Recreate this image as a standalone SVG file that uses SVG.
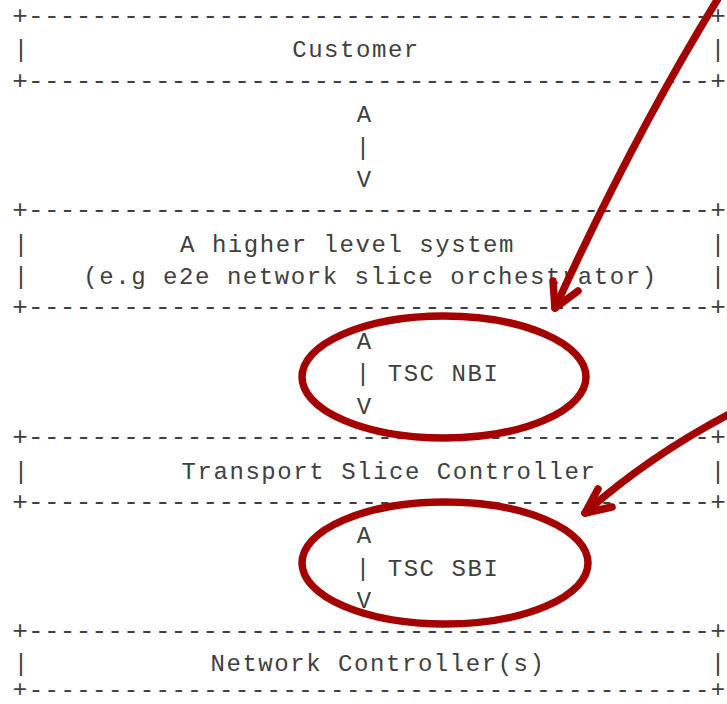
<svg xmlns="http://www.w3.org/2000/svg" width="727" height="704" viewBox="0 0 727 704">
<style>
  text { font-family: "Liberation Mono", "DejaVu Sans Mono", monospace; font-size: 24px; letter-spacing: 1.55px; fill: #404040; }
  .b { font-size: 26px; letter-spacing: 0.26px; }
  .bl { letter-spacing: 1.46px; }
  .c { text-anchor: middle; }
  .red { fill: none; stroke: #a40000; stroke-width: 7.5; stroke-linecap: round; stroke-linejoin: round; }
</style>
<rect width="727" height="704" fill="#ffffff"/>
<g id="customer">
  <text class="b" x="12.2" y="23.8">+-------------------------------------------+</text>
  <text x="13.8" y="57.4">|</text>
  <text class="c" x="356" y="57.4">Customer</text>
  <text x="710.8" y="57.4">|</text>
  <text class="b" x="12.2" y="88.6">+-------------------------------------------+</text>
</g>
<g id="higher-level-system">
  <text class="b" x="12.2" y="218.2">+-------------------------------------------+</text>
  <text x="13.8" y="251.8">|</text>
  <text class="c" x="347.5" y="251.8">A higher level system</text>
  <text x="710.8" y="251.8">|</text>
  <text x="13.8" y="284.2">|</text>
  <text class="c" x="370.5" y="284.2">(e.g e2e network slice orchestrator)</text>
  <text x="710.8" y="284.2">|</text>
  <text class="b" x="12.2" y="315.4">+-------------------------------------------+</text>
</g>
<g id="transport-slice-controller">
  <text class="b" x="12.2" y="445">+-------------------------------------------+</text>
  <text x="13.8" y="478.6">|</text>
  <text class="c" x="389" y="478.6">Transport Slice Controller</text>
  <text x="710.8" y="478.6">|</text>
  <text class="b" x="12.2" y="509.8">+-------------------------------------------+</text>
</g>
<g id="network-controllers">
  <text class="b" x="12.2" y="639.4">+-------------------------------------------+</text>
  <text x="13.8" y="670.5">|</text>
  <text class="c" x="378" y="670.5">Network Controller(s)</text>
  <text x="710.8" y="670.5">|</text>
  <text class="bl" x="12.8" y="697">+-------------------------------------------+</text>
</g>
<g id="connectors">
  <g id="customer-link">
    <text x="356.8" y="122.2">A</text>
    <text x="355.8" y="154.6">|</text>
    <text x="356.8" y="187">V</text>
  </g>
  <g id="tsc-nbi">
    <text x="356.8" y="349">A</text>
    <text x="355.8" y="381.4">| TSC NBI</text>
    <text x="356.8" y="413.8">V</text>
  </g>
  <g id="tsc-sbi">
    <text x="356.8" y="543.4">A</text>
    <text x="355.8" y="575.8">| TSC SBI</text>
    <text x="356.8" y="608.2">V</text>
  </g>
</g>
<g id="annotations">
  <ellipse class="red" cx="444" cy="377" rx="142" ry="61"/>
  <ellipse class="red" cx="445" cy="563" rx="143" ry="61"/>
  <path class="red" d="M719,-3 Q634,135 555,308"/>
  <path class="red" d="M553,281 L555,308 L578,291"/>
  <path class="red" d="M735,411 Q650,455 585,513"/>
  <path class="red" d="M598,489 L585,513 L612,507"/>
</g>
</svg>
